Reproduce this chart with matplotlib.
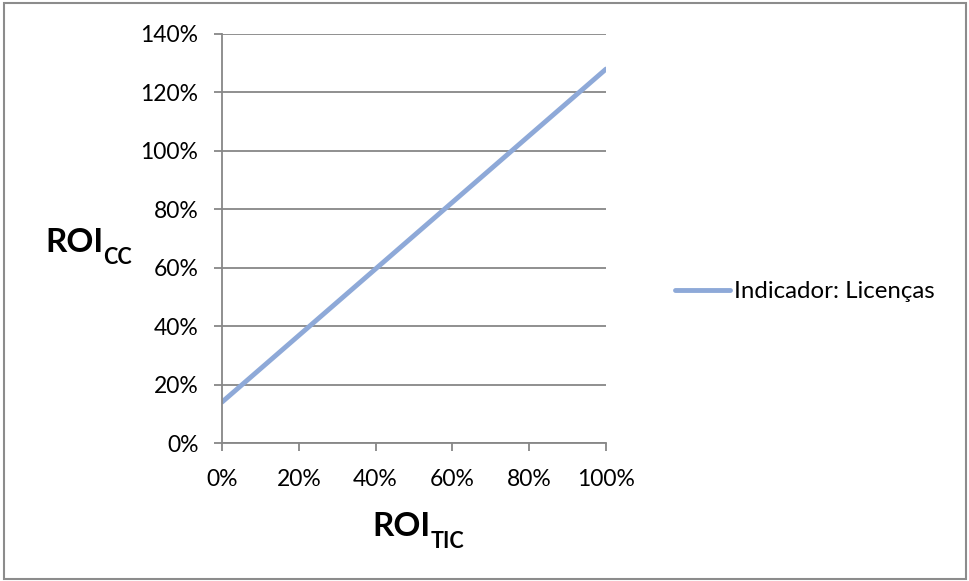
import matplotlib
matplotlib.use("Agg")
import matplotlib.pyplot as plt
from matplotlib.patches import Rectangle
from matplotlib.ticker import PercentFormatter, MultipleLocator

# ROI of the IT investment vs. ROI of the whole company (licences indicator)
roi_tic = [0.0, 0.2, 0.4, 0.6, 0.8, 1.0]
roi_cc = [0.14, 0.368, 0.596, 0.824, 1.052, 1.28]
series_name = "Indicador: Licenças"

FONT = ["Lato", "DejaVu Sans"]
plt.rcParams["font.family"] = FONT

W, H = 969, 581
fig = plt.figure(figsize=(W / 100, H / 100), dpi=100)
fig.patch.set_facecolor("white")

# outer chart border
fig.add_artist(Rectangle((4 / W, 2 / H), (962) / W, (576) / H, transform=fig.transFigure,
                         fill=False, edgecolor="#8c8c8c", linewidth=1.5))

ax = fig.add_axes([222 / W, 1 - 443 / H, (606 - 222) / W, (443 - 34) / H])
line_color = "#8EA9D8"
grid_color = "#878787"

ax.plot(roi_tic, roi_cc, color=line_color, linewidth=3.5, solid_capstyle="round",
        label=series_name)

ax.set_xlim(0, 1)
ax.set_ylim(0, 1.4)
ax.xaxis.set_major_locator(MultipleLocator(0.2))
ax.yaxis.set_major_locator(MultipleLocator(0.2))
ax.xaxis.set_major_formatter(PercentFormatter(1.0, decimals=0))
ax.yaxis.set_major_formatter(PercentFormatter(1.0, decimals=0))

ax.grid(axis="y", color=grid_color, linewidth=1.3)
ax.set_axisbelow(True)
for side in ("top", "right"):
    ax.spines[side].set_visible(False)
for side in ("left", "bottom"):
    ax.spines[side].set_color(grid_color)
    ax.spines[side].set_linewidth(1.3)
ax.tick_params(axis="both", direction="out", length=6, width=1.3, color=grid_color,
               labelsize=16.5, labelcolor="black")
ax.tick_params(axis="y", pad=11)
ax.tick_params(axis="x", pad=13)

# axis titles with subscripts
ty = fig.text(45 / W, 1 - 252 / H, "ROI", fontsize=24, fontweight="bold",
              ha="left", va="baseline")
ax.annotate("CC", xy=(1, 0), xycoords=ty, xytext=(0, -5), textcoords="offset points",
            fontsize=15.5, fontweight="bold", ha="left", va="baseline")

tx = fig.text(372 / W, 1 - 536 / H, "ROI", fontsize=24, fontweight="bold",
              ha="left", va="baseline")
ax.annotate("TIC", xy=(1, 0), xycoords=tx, xytext=(0, -5), textcoords="offset points",
            fontsize=15.5, fontweight="bold", ha="left", va="baseline")

leg = fig.legend(loc="center left", bbox_to_anchor=(675 / W, 1 - 292 / H), frameon=False,
                 fontsize=17.3, handlelength=2.3, handletextpad=0.17, borderpad=0,
                 borderaxespad=0)

fig.savefig("out.png", dpi=100, facecolor="white")
